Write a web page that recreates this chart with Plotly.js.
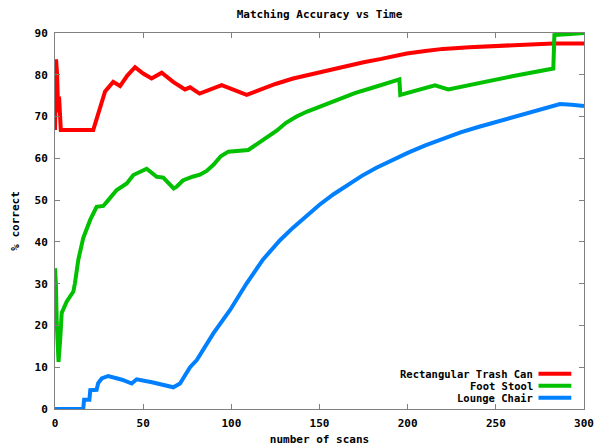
<!DOCTYPE html>
<html>
<head>
<meta charset="utf-8">
<script src="https://cdn.plot.ly/plotly-3.0.1.min.js"></script>
<style>html,body{margin:0;padding:0;background:#fff;}#chart{width:595px;height:447px;}</style>
</head>
<body>
<div id="chart"></div>
<script>
const seriesNames = ["Rectangular Trash Can", "Foot Stool", "Lounge Chair"];

const trashX = [0, 0.3, 0.6, 1.2, 1.8, 2.3, 2.8, 3.3, 21.7, 25, 28.4, 33, 36.9, 41, 45.4, 50, 54.8, 60.5, 67, 73.7, 76.6, 82, 88, 94.5, 100, 108.7, 115, 125, 135, 145, 156, 165, 175, 185, 199.5, 210, 220, 235, 248.5, 260, 270, 282.5, 290, 300];
const trashY = [66.8, 71.2, 83.7, 80, 71, 74.8, 70, 66.8, 66.8, 71, 76, 78.3, 77.3, 79.8, 81.8, 80.3, 79.1, 80.5, 78.3, 76.5, 77, 75.5, 76.4, 77.5, 76.6, 75.2, 76.2, 77.8, 79.1, 80.1, 81.1, 82, 83, 83.8, 85.1, 85.7, 86.2, 86.6, 86.9, 87.2, 87.4, 87.5, 87.5, 87.5];

const stoolX = [0, 0.5, 1, 2, 3, 3.8, 6.6, 10.4, 11.3, 13.2, 16, 19.9, 23.6, 27.4, 30.2, 35, 40.7, 44.4, 52, 57.7, 61.4, 67.3, 69, 72.5, 78, 82.2, 86, 90, 94, 98.3, 109.6, 118, 125.7, 131, 137, 143, 150.3, 160, 170, 180, 190, 195.3, 195.8, 205, 215.5, 223, 240, 260, 282.6, 283.2, 290, 300];
const stoolY = [33.7, 30, 20.6, 11.3, 17, 23, 25.7, 28.1, 30.1, 35.7, 40.9, 45.2, 48.4, 48.6, 50, 52.4, 54, 56, 57.5, 55.6, 55.4, 52.8, 53.2, 54.7, 55.6, 56.1, 57, 58.5, 60.5, 61.6, 62, 64.5, 66.6, 68.5, 70, 71.2, 72.4, 74.1, 75.6, 76.9, 78.2, 78.9, 75.2, 76.3, 77.5, 76.5, 78, 79.7, 81.5, 89.5, 89.7, 90];

const chairX = [0, 16, 16.5, 19.5, 20, 23.6, 24.5, 26.5, 30.2, 33, 38, 43.5, 46.3, 55, 62, 67.1, 70.9, 73, 76.6, 80.4, 85, 89.8, 99.3, 108.7, 118, 127.6, 135, 142, 150, 158, 166, 174, 182, 190, 200, 210, 220, 230, 240, 250, 260, 270, 280, 286.4, 293, 300];
const chairY = [0, 0, 2.2, 2.2, 4.5, 4.6, 6.2, 7.3, 7.9, 7.6, 7, 6.1, 7.1, 6.4, 5.7, 5.2, 6.1, 7.5, 10, 11.7, 15, 18.1, 23.7, 30.1, 35.8, 40.4, 43.4, 46.1, 48.9, 51.4, 53.7, 55.8, 57.7, 59.4, 61.3, 63.1, 64.7, 66.2, 67.5, 68.7, 69.9, 71.1, 72.3, 73, 72.8, 72.5];

const colors = ["#ff0000", "#00c000", "#0080ff"];
const font = {family: "DejaVu Sans Mono", size: 11, color: "#000", weight: "bold"};
const legendFont = {family: "DejaVu Sans Mono", size: 10.5, color: "#000", weight: "bold"};

const xs = [trashX, stoolX, chairX];
const ys = [trashY, stoolY, chairY];
const traces = seriesNames.map((n, i) => ({
  x: xs[i], y: ys[i], name: n, type: "scatter", mode: "lines",
  line: {color: colors[i], width: 4}, showlegend: false
}));

// legend drawn as text + sample strokes, right-aligned like the original
const legY = [0.094, 0.062, 0.030];
const annotations = seriesNames.map((n, i) => ({
  text: n, xref: "paper", yref: "paper", x: 0.905, y: legY[i],
  xanchor: "right", yanchor: "middle", showarrow: false, font: legendFont,
  borderpad: 0
}));
const shapes = seriesNames.map((n, i) => ({
  type: "line", xref: "paper", yref: "paper", x0: 0.914, x1: 0.976, y0: legY[i], y1: legY[i],
  line: {color: colors[i], width: 4}
}));

const axisCommon = {
  showline: true, mirror: "allticks", linecolor: "#808080", linewidth: 1,
  ticks: "inside", ticklen: 5, tickcolor: "#808080", tickwidth: 1,
  showgrid: false, zeroline: false, tickfont: font
};

const layout = {
  width: 595, height: 447,
  margin: {l: 55, r: 11, t: 33, b: 38},
  paper_bgcolor: "#fff", plot_bgcolor: "#fff",
  title: {text: "Matching Accuracy vs Time", font: font, x: 0.537, xanchor: "center", y: 0.968, yanchor: "middle"},
  xaxis: Object.assign({}, axisCommon, {range: [0, 300], dtick: 50, tick0: 0,
    title: {text: "number of scans", font: font, standoff: 6}, ticklabelstandoff: 4}),
  yaxis: Object.assign({}, axisCommon, {range: [0, 90], dtick: 10, tick0: 0,
    title: {text: "% correct", font: font, standoff: 12}, ticklabelstandoff: 4}),
  annotations: annotations,
  shapes: shapes
};

Plotly.newPlot("chart", traces, layout, {staticPlot: true});
</script>
</body>
</html>
